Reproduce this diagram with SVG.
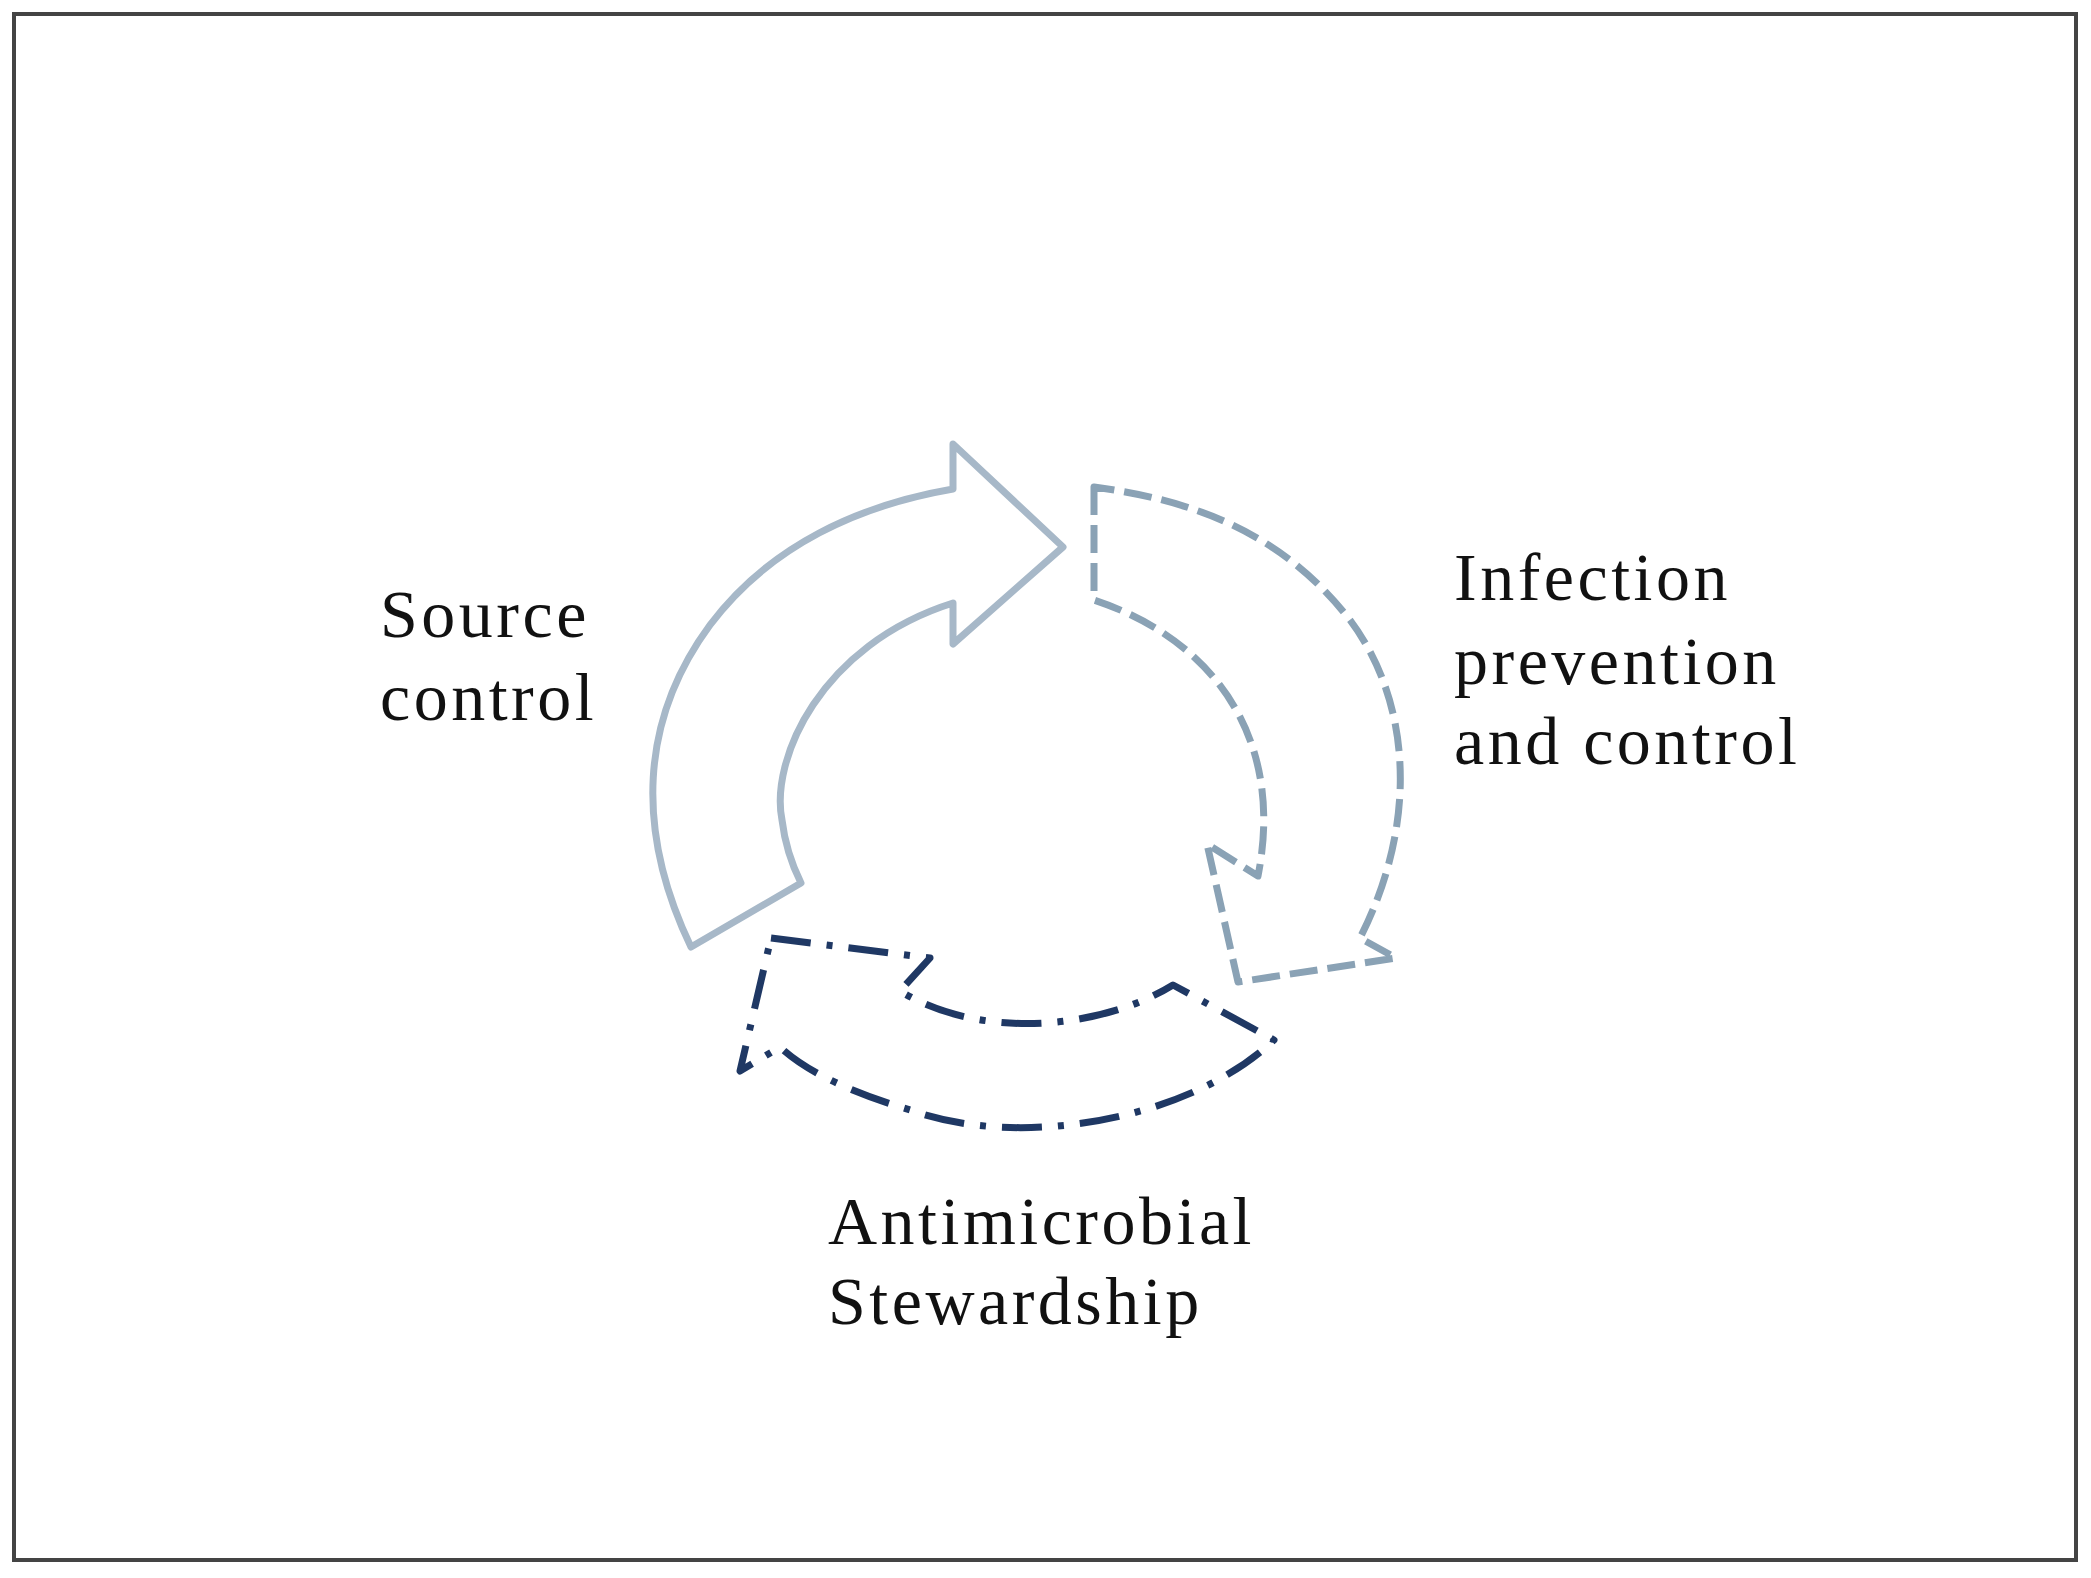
<svg xmlns="http://www.w3.org/2000/svg" width="2091" height="1578" viewBox="0 0 2091 1578">
<style>
.lbl{font-family:"Liberation Serif","DejaVu Serif",serif;font-size:68px;letter-spacing:3.5px;fill:#111}
.a{fill:none;stroke-width:7;stroke-linejoin:round}
</style>
<rect x="0" y="0" width="2091" height="1578" fill="#fff"/>
<rect x="14" y="14" width="2062" height="1546" fill="none" stroke="#444" stroke-width="4"/>
<g id="connectors">
<path id="source-arrow" class="a" stroke="#a7b8c8" d="M691,947 C635,830 640,720 710,625 C770,545 860,505 953,489 L953,444 L1063,547 L953,644 L953,603 C820,645 770,760 782,820 C785,845 792,865 801,883 Z"/>
<path id="ipc-arrow" class="a" stroke="#8aa2b5" stroke-dasharray="28,10" d="M1094,487 L1094,600 C1215,640 1285,740 1258,876 L1207,844 L1238,982 L1396,958 L1360,938 C1420,820 1410,700 1350,620 C1280,530 1190,500 1094,487 Z"/>
<path id="ams-arrow" class="a" stroke="#1f3864" stroke-dasharray="40,16,6,16" d="M771,938 L930,958 L900,991 C980,1040 1100,1030 1173,985 L1274,1040 C1190,1120 1020,1150 910,1110 C860,1095 810,1075 780,1047 L740,1071 Z"/>
</g>
<g id="source-control"><text class="lbl" x="380" y="637">Source</text><text class="lbl" x="380" y="720">control</text></g>
<g id="infection-prevention"><text class="lbl" x="1454" y="600">Infection</text><text class="lbl" x="1454" y="684">prevention</text><text class="lbl" x="1454" y="764">and control</text></g>
<g id="antimicrobial-stewardship"><text class="lbl" x="828" y="1244">Antimicrobial</text><text class="lbl" x="828" y="1324">Stewardship</text></g>
</svg>
